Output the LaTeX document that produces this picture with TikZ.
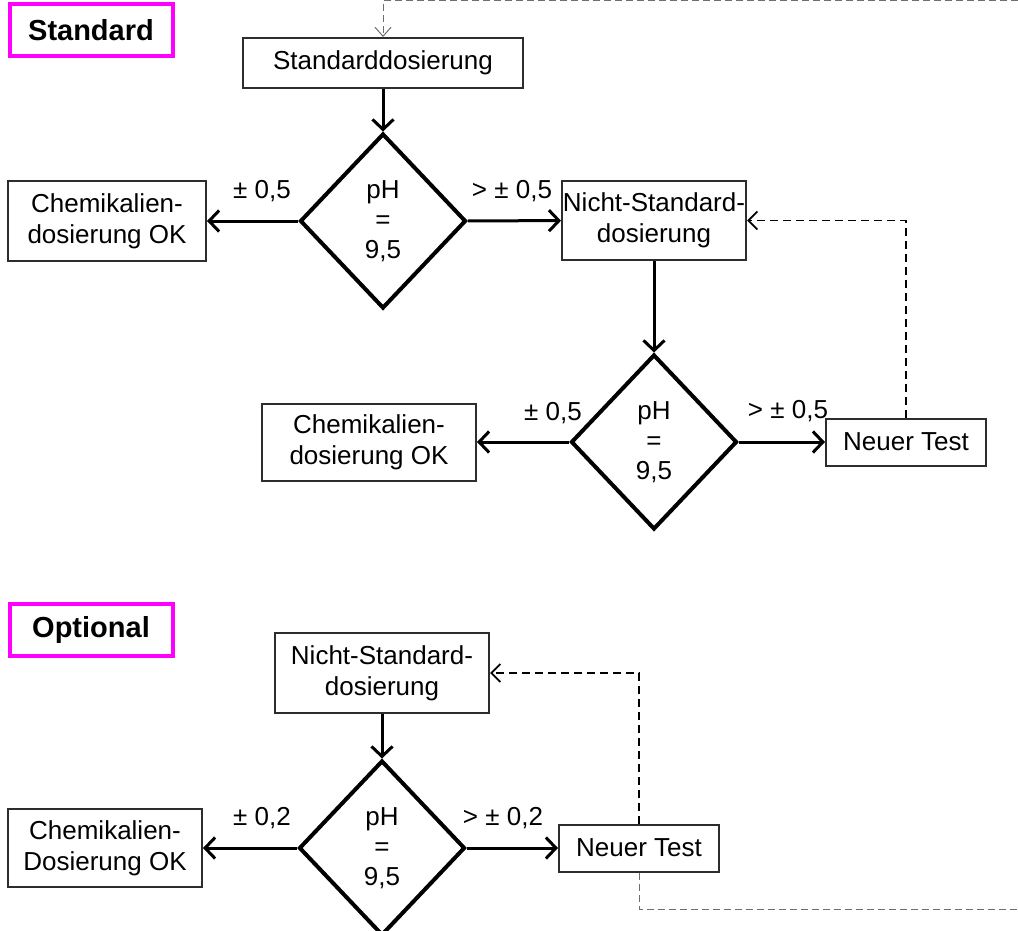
\documentclass[tikz,border=0pt]{standalone}
\usepackage{fontspec}
\setmainfont{Liberation Sans}
\usepackage{xcolor}
\usepackage{tikz}
\usetikzlibrary{shapes.geometric, arrows.meta, positioning}
\definecolor{tagmagenta}{RGB}{255,0,255}
\definecolor{boxgrey}{RGB}{45,45,45}
\definecolor{loopgrey}{RGB}{110,110,110}

\begin{document}
\begin{tikzpicture}[x=1pt, y=-1pt,
    box/.style={rectangle, draw=boxgrey, line width=2pt, inner sep=0pt, align=center, font=\fontsize{26}{31}\selectfont},
    check/.style={diamond, draw=black, line width=4pt, inner sep=0pt, minimum width=166pt, minimum height=175pt, align=center, font=\fontsize{26}{30}\selectfont},
    tag/.style={rectangle, draw=tagmagenta, line width=4pt, minimum width=163pt, minimum height=52pt, font=\fontsize{29}{32}\selectfont\bfseries},
    arrow/.style={-{Straight Barb[length=10pt, width=21pt, line width=3pt]}, line width=3pt},
    feedback/.style={-{Straight Barb[length=9pt, width=18pt, line width=1.8pt]}, line width=1.8pt, dash pattern=on 8pt off 5pt},
    loop/.style={-{Straight Barb[length=9pt, width=16pt]}, draw=loopgrey, line width=1pt, dash pattern=on 7pt off 4pt},
    label/.style={font=\fontsize{26}{30}\selectfont}
]
    \useasboundingbox (0,0) rectangle (1018,931);

    % Standard
    \node[tag] (tagstd) at (91,30) {Standard};
    \node[box, minimum width=280pt, minimum height=50pt] (std) at (383,63) {Standarddosierung};
    \node[check] (ph1) at (383,221) {pH\\=\\9,5};
    \node[box, minimum width=198pt, minimum height=79pt] (ok1) at (107,221) {Chemikalien-\\dosierung OK};
    \node[box, minimum width=184pt, minimum height=79pt] (nstd1) at (654,220.5) {Nicht-Standard-\\dosierung};
    \node[check] (ph2) at (654,442) {pH\\=\\9,5};
    \node[box, minimum width=214pt, minimum height=77pt] (ok2) at (369,442) {Chemikalien-\\dosierung OK};
    \node[box, minimum width=160pt, minimum height=47pt] (test1) at (906,442) {Neuer Test};
    \coordinate (topend) at (1018,1);

    \draw[arrow] (std) -- (ph1);
    \draw[arrow] (ph1) -- (ok1);
    \draw[arrow] (ph1) -- (nstd1);
    \draw[arrow] (nstd1) -- (ph2);
    \draw[arrow] (ph2) -- (ok2);
    \draw[arrow] (ph2) -- (test1);
    \draw[feedback] (test1.north) |- (nstd1.east);
    \draw[loop] (topend) -| (std.north);

    \node[label] (l1) at (262,191) {± 0,5};
    \node[label] (l2) at (512,191) {> ± 0,5};
    \node[label] (l3) at (553,413) {± 0,5};
    \node[label] (l4) at (788,411) {> ± 0,5};

    % Optional
    \node[tag] (tagopt) at (91,630) {Optional};
    \node[box, minimum width=214pt, minimum height=80pt] (nstd2) at (382,673) {Nicht-Standard-\\dosierung};
    \node[check] (ph3) at (382,848) {pH\\=\\9,5};
    \node[box, minimum width=194pt, minimum height=78pt] (ok3) at (105,848) {Chemikalien-\\Dosierung OK};
    \node[box, minimum width=160pt, minimum height=47pt] (test2) at (639,848) {Neuer Test};
    \coordinate (botend) at (1018,909);

    \draw[arrow] (nstd2) -- (ph3);
    \draw[arrow] (ph3) -- (ok3);
    \draw[arrow] (ph3) -- (test2);
    \draw[feedback] (test2.north) |- (nstd2.east);
    \draw[loop, -] (test2.south) |- (botend);

    \node[label] (l5) at (262,818) {± 0,2};
    \node[label] (l6) at (503,818) {> ± 0,2};
\end{tikzpicture}
\end{document}
